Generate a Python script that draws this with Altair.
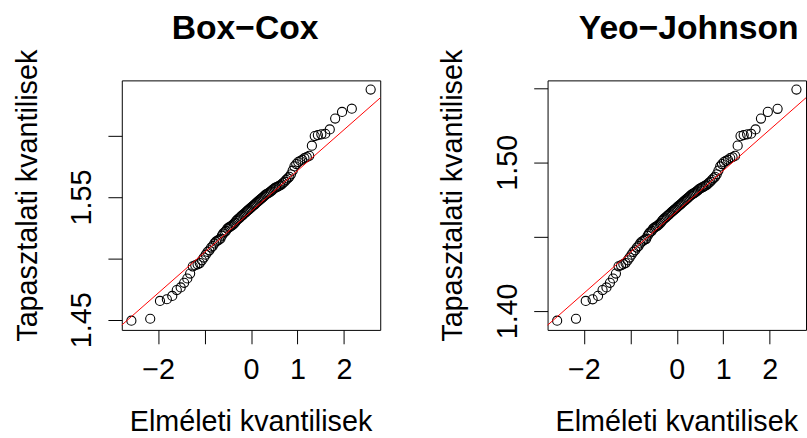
import altair as alt
import pandas as pd

# Sorted sample values after each power transform (n = 100)
box_cox = [
    1.4492, 1.4508, 1.4653, 1.4667, 1.4694, 1.4742, 1.4763, 1.4801, 1.4836, 1.4876,
    1.4935, 1.4944, 1.4952, 1.4962, 1.4984, 1.5007, 1.5030, 1.5053, 1.5066, 1.5088,
    1.5100, 1.5122, 1.5136, 1.5144, 1.5152, 1.5160, 1.5185, 1.5203, 1.5215, 1.5225,
    1.5242, 1.5250, 1.5257, 1.5264, 1.5271, 1.5282, 1.5291, 1.5306, 1.5316, 1.5325,
    1.5333, 1.5342, 1.5350, 1.5359, 1.5368, 1.5376, 1.5385, 1.5393, 1.5401, 1.5410,
    1.5418, 1.5427, 1.5435, 1.5443, 1.5452, 1.5460, 1.5469, 1.5477, 1.5486, 1.5494,
    1.5502, 1.5511, 1.5520, 1.5527, 1.5532, 1.5538, 1.5546, 1.5555, 1.5564, 1.5572,
    1.5578, 1.5583, 1.5590, 1.5595, 1.5604, 1.5616, 1.5625, 1.5640, 1.5652, 1.5665,
    1.5685, 1.5715, 1.5750, 1.5769, 1.5785, 1.5796, 1.5804, 1.5817, 1.5825, 1.5836,
    1.5919, 1.5997, 1.6005, 1.6011, 1.6016, 1.6051, 1.6140, 1.6194, 1.6220, 1.6376,
]

yeo_johnson = [
    1.3934, 1.3947, 1.4067, 1.4078, 1.4101, 1.4140, 1.4158, 1.4189, 1.4218, 1.4251,
    1.4300, 1.4307, 1.4314, 1.4322, 1.4340, 1.4359, 1.4378, 1.4397, 1.4408, 1.4426,
    1.4436, 1.4454, 1.4466, 1.4472, 1.4479, 1.4485, 1.4506, 1.4521, 1.4531, 1.4539,
    1.4553, 1.4560, 1.4565, 1.4571, 1.4577, 1.4586, 1.4593, 1.4606, 1.4614, 1.4622,
    1.4628, 1.4636, 1.4642, 1.4650, 1.4657, 1.4664, 1.4671, 1.4678, 1.4684, 1.4692,
    1.4698, 1.4706, 1.4712, 1.4719, 1.4726, 1.4733, 1.4740, 1.4747, 1.4754, 1.4761,
    1.4768, 1.4775, 1.4783, 1.4788, 1.4792, 1.4797, 1.4804, 1.4811, 1.4819, 1.4825,
    1.4830, 1.4835, 1.4840, 1.4844, 1.4852, 1.4862, 1.4869, 1.4882, 1.4892, 1.4902,
    1.4919, 1.4944, 1.4972, 1.4988, 1.5001, 1.5010, 1.5017, 1.5028, 1.5034, 1.5043,
    1.5112, 1.5176, 1.5183, 1.5188, 1.5192, 1.5221, 1.5294, 1.5339, 1.5360, 1.5489,
]

# Axis ticks; only some tick values carry a printed label
x_ticks = [-2, -1, 0, 1, 2]
x_shown = [-2, 0, 1, 2]
box_cox_ticks = [1.45, 1.50, 1.55, 1.60]
box_cox_shown = ["1.45", "1.55"]
yeo_johnson_ticks = [1.40, 1.45, 1.50, 1.55]
yeo_johnson_shown = ["1.40", "1.50"]

FONT = "Liberation Sans"
PANEL_W, PANEL_H = 261, 252
X_DOMAIN = [-2.782, 2.782]


def qq_panel(values, title, y_domain, y_ticks, y_shown, title_dx):
    data = pd.DataFrame({"value": values})
    x_scale = alt.Scale(domain=X_DOMAIN, nice=False, zero=False)
    y_scale = alt.Scale(domain=y_domain, nice=False, zero=False)
    shown_x = ",".join(str(v) for v in x_shown)
    shown_y = ",".join("'" + s + "'" for s in y_shown)
    common = dict(
        grid=False, domain=False, ticks=True, tickSize=14, tickColor="black",
        tickWidth=1, labelFont=FONT, labelFontSize=29, labelColor="black",
        titleFont=FONT, titleFontSize=29, titleColor="black",
        titleFontWeight="normal", labelOverlap=False, labelFlush=False,
    )
    x_axis = alt.Axis(
        values=x_ticks,
        labelExpr=f"indexof([{shown_x}], datum.value) >= 0 ? replace(format(datum.value, 'd'), '-', '\u2212') : ''",
        labelBaseline="alphabetic", labelPadding=35,
        title="Elméleti kvantilisek", titleBaseline="alphabetic",
        titleAlign="center", titleX=130, titleY=102,
        **common,
    )
    y_axis = alt.Axis(
        values=y_ticks,
        labelExpr=f"indexof([{shown_y}], format(datum.value, '.2f')) >= 0 ? format(datum.value, '.2f') : ''",
        labelAngle=270, labelAlign="center", labelBaseline="alphabetic",
        labelPadding=17.5,
        title="Tapasztalati kvantilisek", titleAngle=270,
        titleBaseline="alphabetic", titleAlign="center",
        titleX=-86.5, titleY=116,
        **common,
    )

    base = alt.Chart(data)
    points = (
        base.transform_window(rank="row_number()", sort=[alt.SortField("value", order="ascending")])
        .transform_joinaggregate(n="count()")
        .transform_calculate(theo="quantileNormal((datum.rank - 0.5) / datum.n)")
        .mark_point(shape="circle", filled=False, color="black", size=85, strokeWidth=1.1, opacity=1)
        .encode(
            x=alt.X("theo:Q", scale=x_scale, axis=x_axis),
            y=alt.Y("value:Q", scale=y_scale, axis=y_axis),
        )
    )
    # Reference line through the first and third quartiles
    line = (
        base.transform_aggregate(q1="q1(value)", q3="q3(value)")
        .transform_calculate(
            slope="(datum.q3 - datum.q1) / (quantileNormal(0.75) - quantileNormal(0.25))",
            icpt="datum.q1 - datum.slope * quantileNormal(0.25)",
            xa="-4",
            xb="4",
            ya="datum.icpt + datum.slope * datum.xa",
            yb="datum.icpt + datum.slope * datum.xb",
        )
        .mark_rule(color="#ff0000", strokeWidth=1, clip=True)
        .encode(
            x=alt.X("xa:Q", scale=x_scale, axis=x_axis),
            x2=alt.X2("xb"),
            y=alt.Y("ya:Q", scale=y_scale, axis=y_axis),
            y2=alt.Y2("yb"),
        )
    )
    return alt.layer(points, line).properties(
        width=PANEL_W,
        height=PANEL_H,
        title=alt.TitleParams(
            text=title, font=FONT, fontSize=34, fontWeight="bold", color="black",
            anchor="middle", frame="group", baseline="alphabetic", offset=-24,
            dx=title_dx,
        ),
    )


left = qq_panel(box_cox, "Box\u2212Cox", [1.4417, 1.6451], box_cox_ticks, box_cox_shown, -6)
right = qq_panel(yeo_johnson, "Yeo\u2212Johnson", [1.3872, 1.5551], yeo_johnson_ticks, yeo_johnson_shown, 12)

chart = (
    alt.hconcat(left, right, spacing=57)
    .properties(padding={"left": 12, "top": 10, "right": 0, "bottom": 0}, background="white")
    .configure_view(stroke="black", strokeWidth=1)
)

chart.save("out.html", embed_options={"renderer": "svg", "actions": False})
